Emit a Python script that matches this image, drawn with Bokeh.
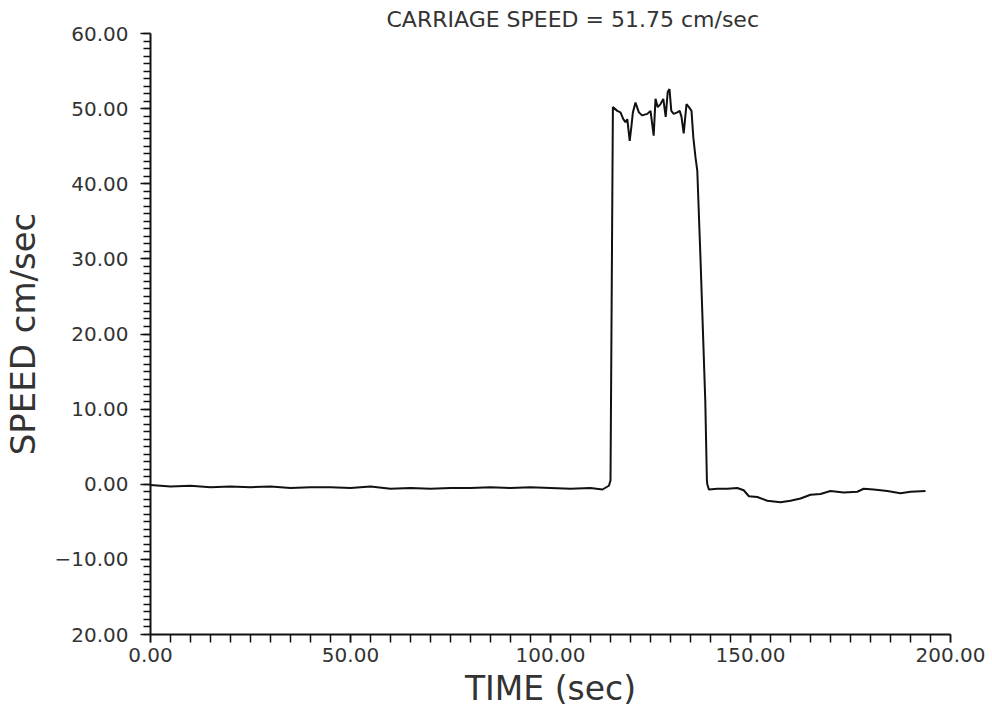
from bokeh.plotting import figure
from bokeh.models import Range1d, FixedTicker, Title
from bokeh.embed import file_html
from bokeh.resources import INLINE

# ---- data ----
time_before = [0, 5, 10, 15, 20, 25, 30, 35, 40, 45, 50, 55, 60, 65, 70, 75, 80,
               85, 90, 95, 100, 105, 110, 113, 114.6]
speed_before = [-0.1, -0.3, -0.2, -0.4, -0.3, -0.4, -0.3, -0.5, -0.4, -0.4, -0.5,
                -0.3, -0.6, -0.5, -0.6, -0.5, -0.5, -0.4, -0.5, -0.4, -0.5, -0.6,
                -0.5, -0.7, -0.2]

time_run = [115.0, 115.6, 116.7, 117.5, 118.2, 118.75, 119.2, 119.8, 120.2, 120.6,
            121.25, 122.1, 122.9, 124.2, 125.0, 125.8, 126.25, 126.8, 127.5, 128.2,
            128.8, 129.3, 129.75, 130.2, 130.8, 131.7, 132.3, 132.75, 133.3, 134.0,
            134.6, 135.25, 135.7, 136.25, 136.7, 137.5, 138.7, 139.1]
speed_run = [0.5, 50.2, 49.7, 49.5, 48.6, 48.2, 48.6, 45.7, 47.5, 49.5,
             50.8, 49.5, 49.1, 49.3, 49.7, 46.4, 51.3, 50.2, 50.6, 51.3,
             48.9, 52.2, 52.6, 49.7, 49.3, 49.5, 49.7, 48.9, 46.7, 50.6,
             50.2, 49.7, 46.2, 43.5, 41.7, 30.0, 11.0, 0.5]

time_after = [139.2, 139.6, 141.7, 144.2, 146.7, 148.3, 149.6, 151.7, 154.2, 157.5,
              160.0, 162.5, 165.0, 167.5, 170.0, 173.3, 176.7, 178.3, 180.8, 184.2,
              187.5, 190.0, 193.75]
speed_after = [0.0, -0.7, -0.6, -0.6, -0.5, -0.8, -1.6, -1.7, -2.2, -2.4,
               -2.2, -1.9, -1.4, -1.3, -0.9, -1.1, -1.0, -0.6, -0.7, -0.9,
               -1.2, -1.0, -0.9]

x_ticks = [0, 50, 100, 150, 200]
x_tick_labels = ["0.00", "50.00", "100.00", "150.00", "200.00"]
y_ticks = [-20, -10, 0, 10, 20, 30, 40, 50, 60]
y_tick_labels = ["20.00", "\u221210.00", "0.00", "10.00", "20.00", "30.00",
                 "40.00", "50.00", "60.00"]

title_text = "CARRIAGE SPEED = 51.75 cm/sec"
x_title = "TIME (sec)"
y_title = "SPEED cm/sec"

time = time_before + time_run + time_after
speed = speed_before + speed_run + speed_after

FONT = "DejaVu Sans"
INK = "#111111"
TXT = "#333333"

p = figure(width=992, height=713, output_backend="svg", toolbar_location=None,
           x_range=Range1d(0, 200), y_range=Range1d(-20, 60),
           min_border_left=150, min_border_right=42, min_border_top=33,
           min_border_bottom=79, title=None)
p.outline_line_color = None
p.grid.visible = False
p.background_fill_color = "white"
p.border_fill_color = "white"

p.line(time, speed, line_color=INK, line_width=2)

# title
p.add_layout(Title(text=title_text, text_font=FONT, text_font_size="22px",
                   text_font_style="normal", text_color=TXT, align="left",
                   offset=236, standoff=4), "above")

# x axis
xa = p.xaxis[0]
xa.ticker = FixedTicker(ticks=x_ticks, minor_ticks=[t for t in range(0, 201, 5)])
xa.major_label_overrides = {t: l for t, l in zip(x_ticks, x_tick_labels)}
xa.axis_line_color = INK
xa.axis_line_width = 2
xa.major_tick_in = 0
xa.major_tick_out = 8
xa.minor_tick_in = 0
xa.minor_tick_out = 8
xa.major_tick_line_width = 1.5
xa.minor_tick_line_width = 1.5
xa.major_tick_line_color = INK
xa.minor_tick_line_color = INK
xa.major_label_text_font = FONT
xa.major_label_text_font_size = "20px"
xa.major_label_text_color = TXT
xa.major_label_standoff = 5
xa.axis_label = x_title
xa.axis_label_text_font = FONT
xa.axis_label_text_font_size = "33px"
xa.axis_label_text_font_style = "normal"
xa.axis_label_text_color = TXT
xa.axis_label_standoff = 4

# y axis
ya = p.yaxis[0]
ya.ticker = FixedTicker(ticks=y_ticks, minor_ticks=list(range(-20, 61)))
ya.major_label_overrides = {t: l for t, l in zip(y_ticks, y_tick_labels)}
ya.axis_line_color = INK
ya.axis_line_width = 2
ya.major_tick_in = 0
ya.major_tick_out = 10
ya.minor_tick_in = 0
ya.minor_tick_out = 7
ya.major_tick_line_width = 1.5
ya.minor_tick_line_width = 1.5
ya.major_tick_line_color = INK
ya.minor_tick_line_color = INK
ya.major_label_text_font = FONT
ya.major_label_text_font_size = "20px"
ya.major_label_text_color = TXT
ya.major_label_standoff = 12
ya.axis_label = y_title
ya.axis_label_text_font = FONT
ya.axis_label_text_font_size = "34px"
ya.axis_label_text_font_style = "normal"
ya.axis_label_text_color = TXT
ya.axis_label_standoff = 8

open("out.html", "w").write(file_html(p, INLINE))
